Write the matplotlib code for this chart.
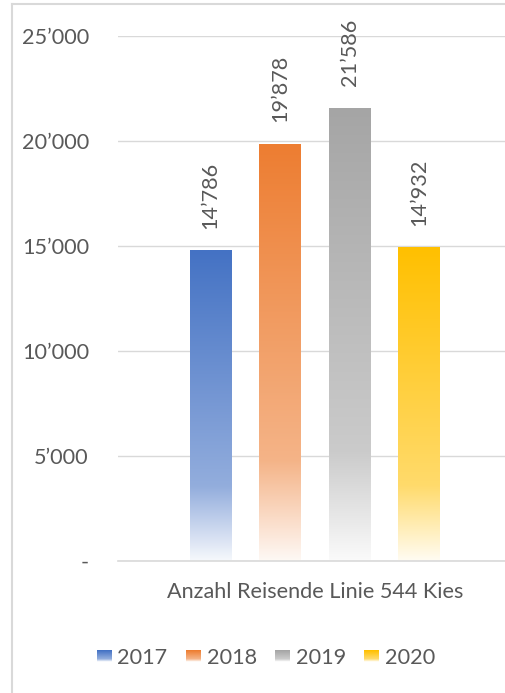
import numpy as np
import matplotlib
matplotlib.use("Agg")
import matplotlib.pyplot as plt
from matplotlib.lines import Line2D
from matplotlib.patches import Rectangle
from matplotlib.legend_handler import HandlerBase
from matplotlib.colors import to_rgb

# ---- data ----
category = "Anzahl Reisende Linie 544 Kies"
years = ["2017", "2018", "2019", "2020"]
values = [14786, 19878, 21586, 14932]
colors = ["#4472C4", "#ED7D31", "#A5A5A5", "#FFC000"]
yticks = [0, 5000, 10000, 15000, 20000, 25000]

def fmt(v):
    return "-" if v == 0 else f"{v:,.0f}".replace(",", "\u2019")

plt.rcParams['font.family'] = ['Lato', 'DejaVu Sans']
TXT = "#595959"
FS = 15.6

W, H = 506, 693
fig = plt.figure(figsize=(W / 100, H / 100), dpi=100)
ax = fig.add_axes([118 / W, 1 - 561 / H, 394 / W, 525 / H])

# gradient: fraction from top -> white mix
def grad_colors(c, n=256):
    f = np.linspace(0, 1, n)
    t = np.interp(f, [0, 0.76, 1.0], [0.0, 0.42, 0.95])
    base = np.array(to_rgb(c))
    arr = base[None, :] * (1 - t[:, None]) + t[:, None]
    return arr

bw = 42 / 394
step = 69.6 / 394
n = len(values)
offsets = [(i - (n - 1) / 2) * step for i in range(n)]

ax.set_xlim(-0.5, 0.5)
ax.set_ylim(0, 25000)

bars = ax.bar(offsets, values, width=bw, color="none", edgecolor="none", zorder=2)
for rect, c, v in zip(bars, colors, values):
    x0, w, h = rect.get_x(), rect.get_width(), rect.get_height()
    img = grad_colors(c)[:, None, :]
    im = ax.imshow(img, extent=[x0, x0 + w, 0, h], aspect="auto", zorder=2,
                   interpolation="bilinear")
    im.set_clip_path(rect)
    ax.annotate(fmt(v), (x0 + w / 2, h), xytext=(0, 15.5), textcoords="offset points",
                rotation=90, ha="center", va="bottom", fontsize=FS, color=TXT,
                annotation_clip=False)

ax.set_xlim(-0.5, 0.5)
ax.set_ylim(0, 25000)
ax.set_yticks(yticks)
ax.set_yticklabels([fmt(v) for v in yticks])
ax.set_xticks([0])
ax.set_xticklabels([category])
ax.tick_params(axis="y", length=0, pad=21, labelsize=FS, labelcolor=TXT)
ax.tick_params(axis="x", length=0, pad=15, labelsize=FS, labelcolor=TXT)
for s in ["left", "right", "top"]:
    ax.spines[s].set_visible(False)
ax.spines["bottom"].set_color("#D9D9D9")
ax.spines["bottom"].set_linewidth(1.2)
ax.grid(axis="y", color="#D9D9D9", linewidth=1.0, zorder=0)
ax.set_axisbelow(True)

# legend with gradient squares
class GradHandler(HandlerBase):
    def __init__(self, color):
        super().__init__()
        self.color = color
    def create_artists(self, legend, orig_handle, xdescent, ydescent, width, height, fontsize, trans):
        cols = grad_colors(self.color, 12)
        arts = []
        nseg = len(cols)
        hh = height / nseg
        for i, cc in enumerate(cols):
            y = -ydescent + height - (i + 1) * hh
            r = Rectangle((-xdescent, y), width, hh * 1.05, facecolor=cc, edgecolor="none", transform=trans)
            arts.append(r)
        return arts

handles = [Rectangle((0, 0), 1, 1, facecolor=c) for c in colors]
fig.legend(handles, years, loc="center", bbox_to_anchor=(266 / W, 1 - 658 / H), ncol=4,
           frameon=False, fontsize=FS, labelcolor=TXT, handlelength=0.7, handleheight=0.5,
           handletextpad=0.25, columnspacing=0.85,
           handler_map={h: GradHandler(c) for h, c in zip(handles, colors)})

# chart border
bc = "#D9D9D9"
fig.add_artist(Line2D([12 / W, 12 / W], [0, 1 - 4 / H], transform=fig.transFigure, color=bc, lw=1.5))
fig.add_artist(Line2D([12 / W, 1], [1 - 4 / H, 1 - 4 / H], transform=fig.transFigure, color=bc, lw=1.5))

fig.savefig("out.png", dpi=100)
